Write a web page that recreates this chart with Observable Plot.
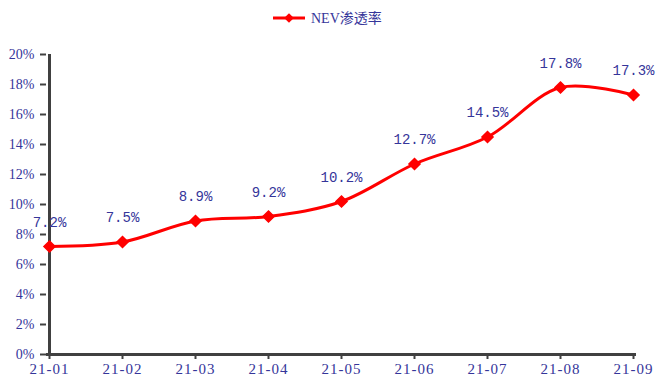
<!DOCTYPE html>
<html>
<head>
<meta charset="utf-8">
<script src="https://cdn.jsdelivr.net/npm/d3@7"></script>
<script src="https://cdn.jsdelivr.net/npm/@observablehq/plot@0.6"></script>
<style>
  html, body { margin: 0; padding: 0; background: #fff; }
  #wrap { position: relative; width: 658px; height: 378px; }
  #legend { position: absolute; left: 0; top: 0; width: 658px; height: 36px; }
  #chart svg { overflow: visible; }
  #chart g[aria-label="x-axis tick label"] text { letter-spacing: 1px; }
</style>
</head>
<body>
<div id="wrap">
  <div id="chart"></div>
  <svg id="legend" width="658" height="36"></svg>
</div>
<script>
// Monthly NEV penetration rate, 2021
const months = ["21-01", "21-02", "21-03", "21-04", "21-05", "21-06", "21-07", "21-08", "21-09"];
const rates = [7.2, 7.5, 8.9, 9.2, 10.2, 12.7, 14.5, 17.8, 17.3];
const yTicks = [0, 2, 4, 6, 8, 10, 12, 14, 16, 18, 20];
const seriesName = "NEV渗透率";

const data = months.map((m, i) => ({month: m, rate: rates[i]}));

const RED = "#ff0000";
const TEXT = "#35359a";
const AXIS = "#404040";

const chart = Plot.plot({
  width: 658,
  height: 378,
  marginTop: 54,
  marginBottom: 24,
  marginLeft: 46,
  marginRight: 22,
  style: {fontFamily: "'Liberation Serif', serif", fontSize: "14px", background: "#fff"},
  x: {type: "point", domain: months, padding: 0},
  y: {domain: [0, 20]},
  marks: [
    Plot.axisY({ticks: yTicks, tickFormat: d => d + "%", tickSize: 6, tickPadding: 6,
      stroke: AXIS, strokeWidth: 2, fill: TEXT, fontSize: 14, label: null}),
    Plot.axisX({tickSize: 5, tickPadding: 4, stroke: AXIS, strokeWidth: 2,
      fill: TEXT, fontSize: 15, label: null}),
    Plot.ruleY([0], {stroke: AXIS, strokeWidth: 3}),
    Plot.ruleX([months[0]], {stroke: AXIS, strokeWidth: 3}),
    Plot.line(data, {x: "month", y: "rate", stroke: RED, strokeWidth: 3, curve: "catmull-rom"}),
    Plot.dot(data, {x: "month", y: "rate", symbol: "diamond2", r: 5, fill: RED, stroke: RED}),
    Plot.text(data, {x: "month", y: "rate", text: d => d.rate.toFixed(1) + "%", dy: -24,
      fill: TEXT, fontFamily: "'Liberation Mono', monospace", fontSize: 14})
  ]
});
document.getElementById("chart").appendChild(chart);

// Legend: line with diamond marker and series name
const lg = d3.select("#legend");
lg.append("line").attr("x1", 273).attr("x2", 305).attr("y1", 18).attr("y2", 18)
  .attr("stroke", RED).attr("stroke-width", 3);
lg.append("path").attr("d", d3.symbol(d3.symbolDiamond2, 60)()).attr("transform", "translate(289,18)")
  .attr("fill", RED);
lg.append("text").attr("x", 311).attr("y", 18).attr("dy", "0.35em")
  .attr("fill", TEXT).style("font-family", "'Liberation Serif', 'Noto Sans CJK SC', serif")
  .style("font-size", "14px").text(seriesName);
</script>
</body>
</html>
